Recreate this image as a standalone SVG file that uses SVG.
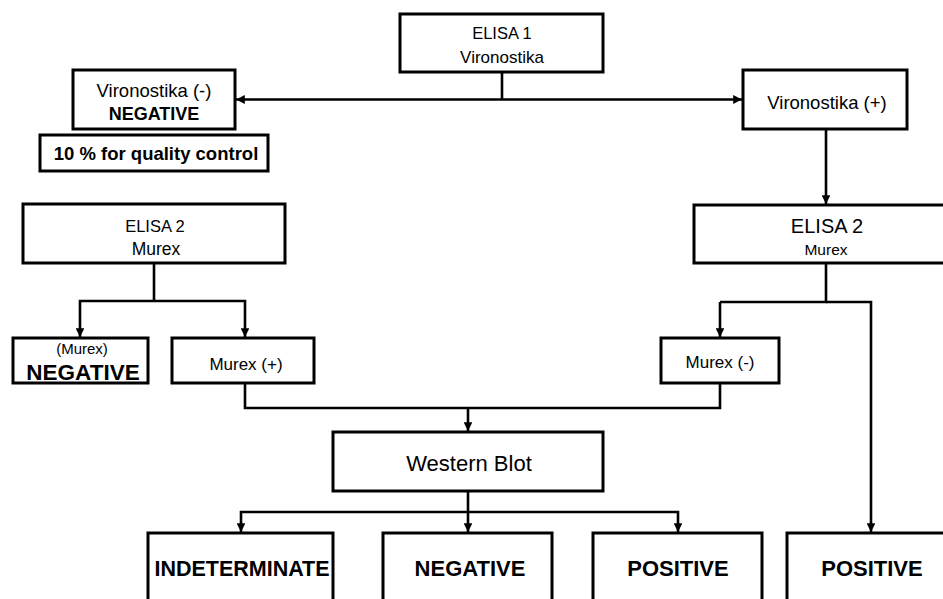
<svg xmlns="http://www.w3.org/2000/svg" width="943" height="599" viewBox="0 0 943 599">
<defs>
<marker id="ah" viewBox="0 0 10 10" refX="10" refY="5" markerWidth="3.4" markerHeight="3.4" orient="auto" markerUnits="strokeWidth">
<path d="M0,0 L10,5 L0,10 Z" fill="#000"/>
</marker>
<style>
rect{fill:#fff;stroke:#000;stroke-width:3}
text{font-family:"Liberation Sans",Arial,sans-serif;fill:#000;text-anchor:middle}
.b{font-weight:bold}
#connectors path{fill:none;stroke:#000;stroke-width:2.6}
.a{marker-end:url(#ah)}
</style>
</defs>
<rect x="0" y="0" width="943" height="599" style="fill:#fff;stroke:none"/>
<g id="connectors">
<path d="M502,72 V99.5"/>
<path class="a" d="M502,99.5 H236"/>
<path class="a" d="M502,99.5 H742"/>
<path class="a" d="M826,129 V204"/>
<path d="M826,263 V302 H720"/>
<path class="a" d="M720,302 V337"/>
<path class="a" d="M826,302 H871 V532"/>
<path d="M154,263 V301"/>
<path class="a" d="M154,301 H80 V337"/>
<path class="a" d="M154,301 H245 V337"/>
<path d="M245,383 V408 H720 V383"/>
<path class="a" d="M468,408 V431"/>
<path d="M468,491 V512"/>
<path class="a" d="M468,512 H241 V532"/>
<path class="a" d="M468,512 V532"/>
<path class="a" d="M468,512 H678 V532"/>
</g>
<g id="elisa1">
<rect x="400" y="14" width="203" height="58"/>
<text x="502" y="39" font-size="16.5">ELISA 1</text>
<text x="502" y="63" font-size="17">Vironostika</text>
</g>
<g id="viro-neg">
<rect x="73" y="70" width="162" height="59"/>
<text x="154" y="97" font-size="18.5">Vironostika (-)</text>
<text x="154" y="120" font-size="18" class="b">NEGATIVE</text>
</g>
<g id="qc">
<rect x="40" y="135" width="228" height="36"/>
<text x="156" y="160" font-size="18.5" class="b">10 % for quality control</text>
</g>
<g id="viro-pos">
<rect x="743" y="70" width="164" height="59"/>
<text x="827" y="109" font-size="18.5">Vironostika (+)</text>
</g>
<g id="elisa2-left">
<rect x="23" y="204" width="262" height="59"/>
<text x="155" y="232" font-size="16.5">ELISA 2</text>
<text x="156" y="255" font-size="17.5">Murex</text>
</g>
<g id="elisa2-right">
<rect x="694" y="205" width="260" height="58"/>
<text x="827" y="233" font-size="20">ELISA 2</text>
<text x="826" y="255" font-size="15.5">Murex</text>
</g>
<g id="murex-neg-result">
<rect x="13" y="338" width="135" height="45"/>
<text x="82" y="354" font-size="15">(Murex)</text>
<text x="83" y="380" font-size="22.5" class="b">NEGATIVE</text>
</g>
<g id="murex-pos">
<rect x="172" y="338" width="142" height="45"/>
<text x="246" y="370" font-size="17">Murex (+)</text>
</g>
<g id="murex-neg">
<rect x="661" y="338" width="118" height="45"/>
<text x="720" y="368" font-size="17">Murex (-)</text>
</g>
<g id="western-blot">
<rect x="333" y="432" width="270" height="59"/>
<text x="469" y="471" font-size="22">Western Blot</text>
</g>
<g id="indeterminate">
<rect x="148" y="533" width="185" height="90"/>
<text x="242" y="576" font-size="21.5" class="b">INDETERMINATE</text>
</g>
<g id="wb-negative">
<rect x="383" y="533" width="169" height="90"/>
<text x="470" y="576" font-size="22" class="b">NEGATIVE</text>
</g>
<g id="wb-positive">
<rect x="593" y="533" width="169" height="90"/>
<text x="678" y="576" font-size="22" class="b">POSITIVE</text>
</g>
<g id="elisa-positive">
<rect x="787" y="533" width="170" height="90"/>
<text x="872" y="576" font-size="22" class="b">POSITIVE</text>
</g>
</svg>
